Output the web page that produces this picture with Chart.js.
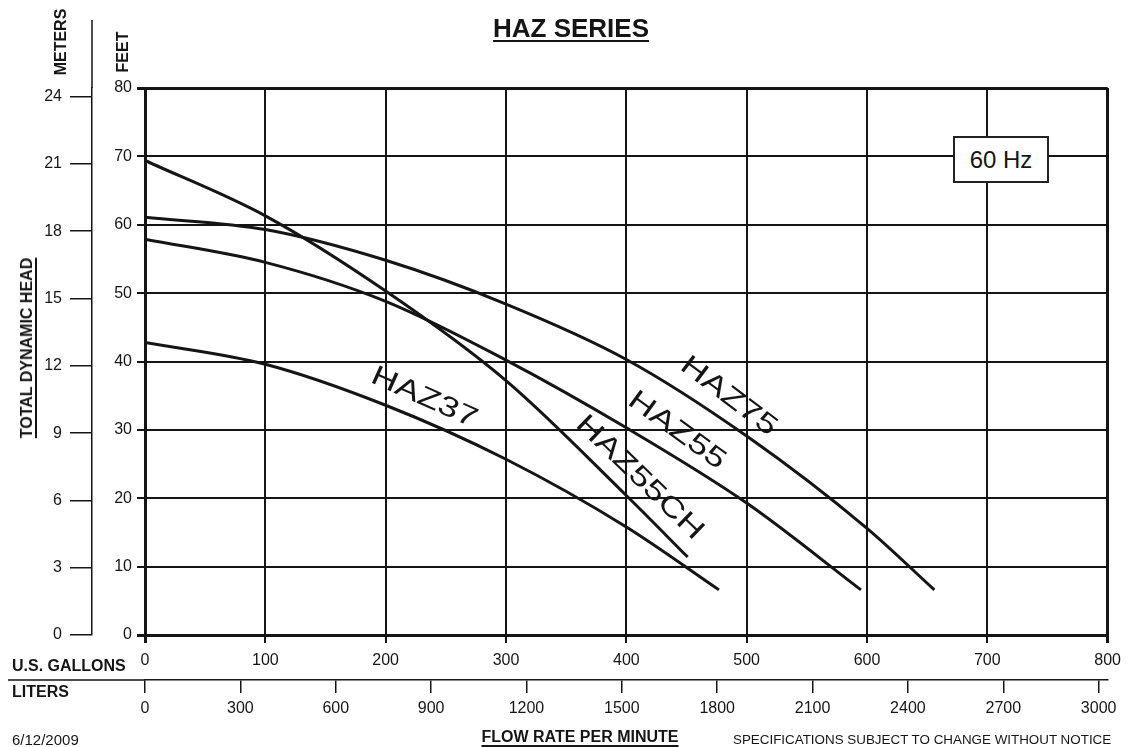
<!DOCTYPE html>
<html lang="en">
<head>
<meta charset="UTF-8">
<title>HAZ Series - 60 Hz</title>
<script src="https://cdn.jsdelivr.net/npm/chart.js@4"></script>
<style>
  body { margin: 0; background: #fff; font-family: "Liberation Sans", Arial, sans-serif; color: #151515; }
  .sheet { position: relative; width: 1129px; height: 747px; overflow: hidden; }
  #pumpChart { position: absolute; left: 0; top: 0; }
  .lbl { position: absolute; white-space: nowrap; line-height: 1; }
  .bold { font-weight: bold; }
  .under { text-decoration: underline; text-underline-offset: 3px; text-decoration-thickness: 2px; }
  .vert { transform: translate(-50%, -50%) rotate(-90deg); }
  .midx { transform: translateX(-50%); }
  .hzBox {
    position: absolute; left: 953px; top: 136px; width: 92px; height: 43px;
    border: 2px solid #222; background: #fff; font-size: 24px;
    display: flex; align-items: center; justify-content: center;
  }
</style>
</head>
<body>
<div class="sheet">
  <canvas id="pumpChart" width="1129" height="747"></canvas>

  <div class="lbl bold under midx" style="left:571px; top:15px; font-size:26px;">HAZ SERIES</div>
  <div class="lbl bold vert" style="left:61px; top:42px; font-size:16px;">METERS</div>
  <div class="lbl bold vert" style="left:123px; top:52px; font-size:16px;">FEET</div>
  <div class="lbl bold under vert" style="left:27px; top:348px; font-size:16px;">TOTAL DYNAMIC HEAD</div>
  <div class="lbl bold" style="left:12px; top:658px; font-size:16px;">U.S. GALLONS</div>
  <div class="lbl bold" style="left:12px; top:684px; font-size:16px;">LITERS</div>
  <div class="lbl" style="left:12px; top:732px; font-size:15px;">6/12/2009</div>
  <div class="lbl bold under midx" style="left:580px; top:729px; font-size:16px;">FLOW RATE PER MINUTE</div>
  <div class="lbl" style="left:733px; top:733px; font-size:13.4px;">SPECIFICATIONS SUBJECT TO CHANGE WITHOUT NOTICE</div>
  <div class="hzBox">60 Hz</div>
</div>

<script>
    // flow in US gallons per minute, head in feet
    const haz75Flow = [0, 100, 200, 300, 400, 500, 600, 656];
    const haz75Head = [61.1, 59.3, 54.8, 48.4, 40.3, 29.1, 15.6, 6.6];

    const haz55Flow = [0, 100, 200, 300, 400, 500, 595];
    const haz55Head = [57.9, 54.5, 48.8, 40.2, 30.3, 19.3, 6.6];

    const haz55chFlow = [0, 100, 200, 300, 400, 451];
    const haz55chHead = [69.4, 61.3, 50.3, 37.2, 20.4, 11.4];

    const haz37Flow = [0, 100, 200, 300, 400, 477];
    const haz37Head = [42.8, 39.6, 33.6, 25.7, 15.8, 6.6];

    const gallonTicks = [0, 100, 200, 300, 400, 500, 600, 700, 800];
    const literTicks = [0, 300, 600, 900, 1200, 1500, 1800, 2100, 2400, 2700, 3000];
    const feetTicks = [0, 10, 20, 30, 40, 50, 60, 70, 80];
    const meterTicks = [0, 3, 6, 9, 12, 15, 18, 21, 24];

    const LITERS_PER_GALLON = 3.78541;
    const METERS_PER_FOOT = 0.3048;

    const curveLabels = [
        { text: 'HAZ37', flow: 232, head: 34.7, angle: 24 },
        { text: 'HAZ75', flow: 485, head: 34.9, angle: 37 },
        { text: 'HAZ55', flow: 442, head: 29.9, angle: 36 },
        { text: 'HAZ55CH', flow: 411, head: 23.0, angle: 44 }
    ];

    const INK = '#151515';
    const FONT = '"Liberation Sans", Arial, sans-serif';

    function toPoints(xs, ys) {
        return xs.map((x, i) => ({ x: x, y: ys[i] }));
    }

    function curve(label, xs, ys) {
        return {
            label: label,
            data: toPoints(xs, ys),
            showLine: true,
            borderColor: INK,
            borderWidth: 3,
            pointRadius: 0,
            cubicInterpolationMode: 'monotone'
        };
    }

    function fixedTicks(values) {
        return scale => { scale.ticks = values.map(v => ({ value: v })); };
    }

    const plainNumber = v => String(v);

    // curve names written along the lines
    const curveLabelPlugin = {
        id: 'curveLabels',
        afterDatasetsDraw(chart) {
            const ctx = chart.ctx;
            const xs = chart.scales.x, ys = chart.scales.y;
            curveLabels.forEach(l => {
                ctx.save();
                ctx.translate(xs.getPixelForValue(l.flow), ys.getPixelForValue(l.head));
                ctx.rotate(l.angle * Math.PI / 180);
                ctx.scale(1.3, 1);
                ctx.font = '28px ' + FONT;
                ctx.fillStyle = INK;
                ctx.textAlign = 'center';
                ctx.textBaseline = 'middle';
                ctx.fillText(l.text, 0, 0);
                ctx.restore();
            });
        }
    };

    // meters line runs up past the plot, liters line runs left under the captions
    const axisLinePlugin = {
        id: 'axisLines',
        afterDraw(chart) {
            const ctx = chart.ctx;
            const m = chart.scales.meters, l = chart.scales.liters;
            ctx.save();
            ctx.strokeStyle = INK;
            ctx.lineWidth = 1.5;
            ctx.beginPath();
            ctx.moveTo(m.right, 20);
            ctx.lineTo(m.right, chart.chartArea.top);
            ctx.moveTo(8, l.top);
            ctx.lineTo(chart.chartArea.left, l.top);
            ctx.stroke();
            ctx.restore();
        }
    };

    const edgeWidth = (edges) => c => (c.tick && edges.includes(c.tick.value)) ? 3 : 2;

    new Chart(document.getElementById('pumpChart'), {
        type: 'scatter',
        data: {
            datasets: [
                curve('HAZ75', haz75Flow, haz75Head),
                curve('HAZ55', haz55Flow, haz55Head),
                curve('HAZ55CH', haz55chFlow, haz55chHead),
                curve('HAZ37', haz37Flow, haz37Head)
            ]
        },
        options: {
            responsive: false,
            animation: false,
            layout: { padding: { left: 0, right: 16, top: 88, bottom: 27 } },
            plugins: { legend: { display: false }, title: { display: false }, tooltip: { enabled: false } },
            scales: {
                x: {
                    type: 'linear', position: 'bottom', weight: 0,
                    min: 0, max: 800,
                    afterBuildTicks: fixedTicks(gallonTicks),
                    afterFit: s => { s.height = 45; },
                    grid: { color: INK, lineWidth: edgeWidth([0, 800]), tickLength: 8 },
                    border: { color: INK, width: 3 },
                    ticks: { color: INK, font: { family: FONT, size: 16 }, padding: 8, maxRotation: 0, callback: plainNumber }
                },
                liters: {
                    type: 'linear', position: 'bottom', weight: 1,
                    min: 0, max: 800 * LITERS_PER_GALLON,
                    afterBuildTicks: fixedTicks(literTicks),
                    afterFit: s => { s.height = 40; },
                    grid: { drawOnChartArea: false, color: INK, lineWidth: 1.5, tickLength: 13 },
                    border: { color: INK, width: 1.5 },
                    ticks: { color: INK, font: { family: FONT, size: 16 }, padding: 6, maxRotation: 0, callback: plainNumber }
                },
                y: {
                    type: 'linear', position: 'left', weight: 0,
                    min: 0, max: 80,
                    afterBuildTicks: fixedTicks(feetTicks),
                    afterFit: s => { s.width = 53; },
                    grid: { color: INK, lineWidth: edgeWidth([0, 80]), tickLength: 8 },
                    border: { color: INK, width: 3 },
                    ticks: { color: INK, font: { family: FONT, size: 16 }, padding: 5, callback: plainNumber }
                },
                meters: {
                    type: 'linear', position: 'left', weight: 1,
                    min: 0, max: 80 * METERS_PER_FOOT,
                    afterBuildTicks: fixedTicks(meterTicks),
                    afterFit: s => { s.width = 92; },
                    grid: { drawOnChartArea: false, color: INK, lineWidth: 1.5, tickLength: 22 },
                    border: { color: INK, width: 1.5 },
                    ticks: { color: INK, font: { family: FONT, size: 16 }, padding: 8, callback: plainNumber }
                }
            }
        },
        plugins: [curveLabelPlugin, axisLinePlugin]
    });
</script>
</body>
</html>
